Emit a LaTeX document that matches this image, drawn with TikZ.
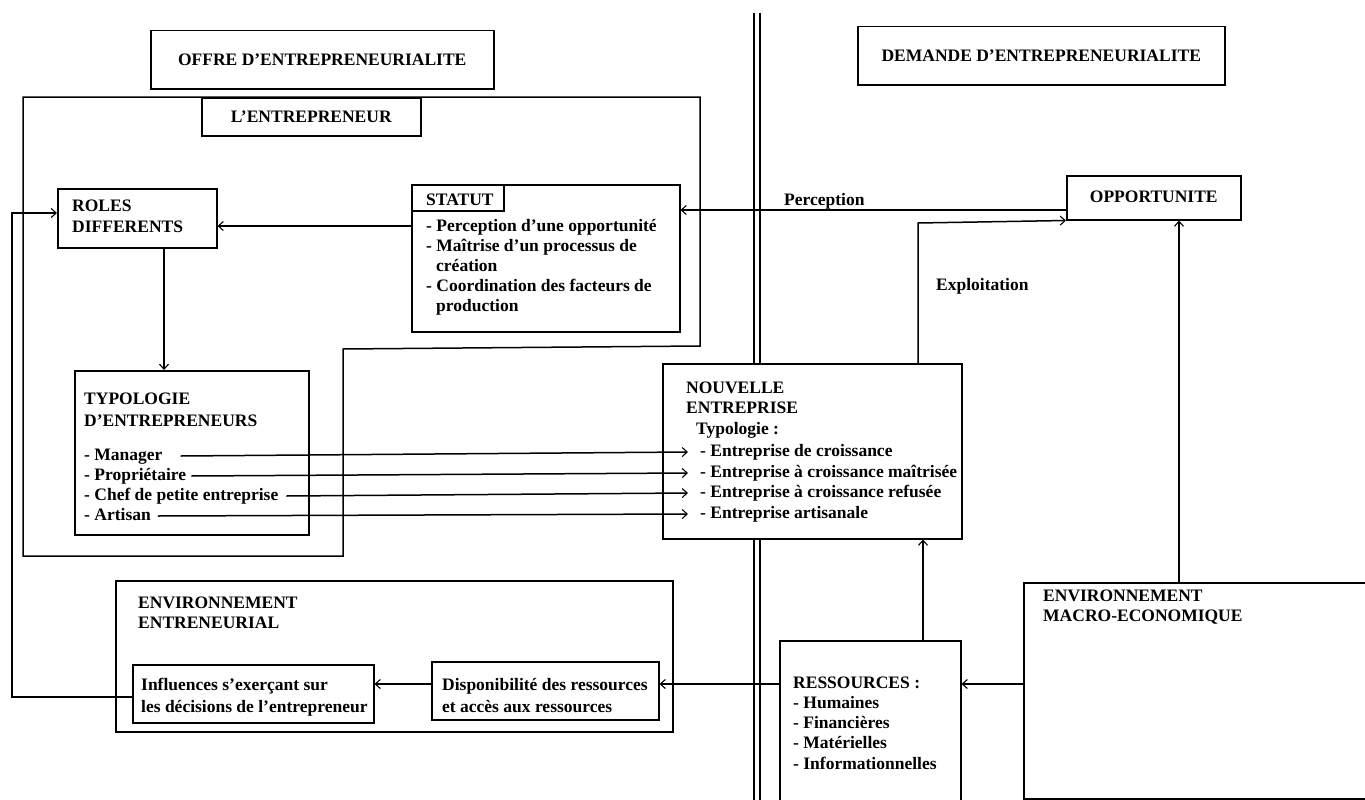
\documentclass[tikz,border=0pt]{standalone}
\usepackage{fontspec}
\setmainfont{Liberation Serif}
\usetikzlibrary{arrows.meta,calc}
\newcommand\mkbox[5]{\node[box,minimum width={(#4-#2)*1pt},minimum height={(#5-#3)*1pt}] (#1) at (#2,#3) {};}
\newcommand\putline[4]{\node[txt] (#1) at (#2,#3) {#4};}
\begin{document}
\begin{tikzpicture}[x=1pt,y=-1pt,
  ln/.style={line width=1.5pt,line join=miter},
  box/.style={draw,line width=1.5pt,inner sep=0pt,anchor=north west},
  txt/.style={font=\bfseries\fontsize{17.5}{20}\selectfont,inner sep=0pt,anchor=base west,text height=12pt,text depth=4pt},
  ttl/.style={font=\bfseries\fontsize{17.5}{20}\selectfont,inner sep=0pt},
  arr/.style={ln,-{Straight Barb[length=5pt,width=9pt,line width=1.1pt]}}]
\useasboundingbox (0,0) rectangle (1365,800);
\fill[white] (0,0) rectangle (1365,800);
\begin{scope}
\clip (0,0) rectangle (1365,800);

% ---- frame of L'ENTREPRENEUR
\draw[ln] (23,97) -- (700,97) -- (700,346) -- (343,349) -- (343,556) -- (23,556) -- cycle;

% ---- boxes
\mkbox{offre}{150}{30}{493}{88}
\mkbox{dem}{857}{26}{1224}{84}
\mkbox{ent}{201}{97}{420}{135}
\mkbox{roles}{57}{188}{216}{247}
\mkbox{statut}{411}{184}{679}{331}
\mkbox{opp}{1066}{175}{1240}{219}
\mkbox{typo}{74}{370}{308}{534}
\mkbox{nouv}{662}{363}{961}{538}
\mkbox{env}{115}{580}{672}{731}
\mkbox{infl}{132}{664}{373}{722}
\mkbox{disp}{431}{661}{658}{719}
\mkbox{res}{779}{640}{960}{810}
\mkbox{macro}{1023}{582}{1375}{798}

% ---- titles
\node[ttl] (offreT) at (offre.center) {OFFRE D'ENTREPRENEURIALITE};
\node[ttl] (demT) at (dem.center) {DEMANDE D'ENTREPRENEURIALITE};
\node[ttl] (entT) at (ent.center) {L'ENTREPRENEUR};
\node[ttl] (oppT) at ([yshift=1pt]opp.center) {OPPORTUNITE};

% ---- STATUT label box
\coordinate (stR) at (504,211);
\draw[ln] (statut.west |- stR) -- (stR) -- (stR |- statut.north);

% ---- texts
\putline{r1}{72}{211}{ROLES}
\putline{r2}{72}{232}{DIFFERENTS}
\putline{s0}{426}{205}{STATUT}
\putline{s1}{426}{231}{- Perception d'une opportunité}
\putline{s2}{426}{251}{- Maîtrise d'un processus de}
\putline{s3}{436}{271}{création}
\putline{s4}{426}{291}{- Coordination des facteurs de}
\putline{s5}{436}{311}{production}
\putline{perc}{784}{205}{Perception}
\putline{expl}{936}{290}{Exploitation}
\putline{t1}{84}{404}{TYPOLOGIE}
\putline{t2}{84}{426}{D'ENTREPRENEURS}
\putline{tm}{84}{460}{- Manager}
\putline{tp}{84}{480}{- Propriétaire}
\putline{tc}{84}{500}{- Chef de petite entreprise}
\putline{ta}{84}{520}{- Artisan}
\putline{n1}{686}{393}{NOUVELLE}
\putline{n2}{686}{413}{ENTREPRISE}
\putline{n3}{696}{434}{Typologie :}
\putline{e1}{700}{456}{- Entreprise de croissance}
\putline{e2}{700}{477}{- Entreprise à croissance maîtrisée}
\putline{e3}{700}{497}{- Entreprise à croissance refusée}
\putline{e4}{700}{518}{- Entreprise artisanale}
\putline{v1}{138}{608}{ENVIRONNEMENT}
\putline{v2}{138}{628}{ENTRENEURIAL}
\putline{i1}{141}{690}{Influences s'exerçant sur}
\putline{i2}{141}{712}{les décisions de l'entrepreneur}
\putline{d1}{442}{690}{Disponibilité des ressources}
\putline{d2}{442}{712}{et accès aux ressources}
\putline{q0}{793}{688}{RESSOURCES :}
\putline{q1}{793}{708}{- Humaines}
\putline{q2}{793}{728}{- Financières}
\putline{q3}{793}{748}{- Matérielles}
\putline{q4}{793}{769}{- Informationnelles}
\putline{m1}{1043}{601}{ENVIRONNEMENT}
\putline{m2}{1043}{621}{MACRO-ECONOMIQUE}

% ---- double separation line
\coordinate (dlA) at (754,13);
\coordinate (dlB) at (760,13);
\coordinate (dlE) at (0,800);
\draw[line width=1.3pt] (dlA) -- (dlA |- nouv.north) (dlB) -- (dlB |- nouv.north)
  (dlA |- nouv.south) -- (dlA |- dlE) (dlB |- nouv.south) -- (dlB |- dlE);

% ---- connectors
\coordinate (srY) at (0,226);
\draw[arr] (statut.west |- srY) -- (roles.east |- srY);
\coordinate (rtX) at (164,0);
\draw[arr] (roles.south -| rtX) -- (typo.north -| rtX);
\coordinate (pY) at (0,210);
\draw[arr] (opp.west |- pY) -- (statut.east |- pY);
\coordinate (exX) at (918,223);
\draw[arr] (nouv.north -| exX) -- (exX) -- (opp.south west);
\coordinate (mX) at (1179,0);
\draw[arr] (macro.north -| mX) -- (opp.south -| mX);
\coordinate (rX) at (923,0);
\draw[arr] (res.north -| rX) -- (nouv.south -| rX);
\coordinate (rY) at (0,684);
\draw[arr] (macro.west |- rY) -- (res.east |- rY);
\draw[arr] (res.west |- rY) -- (disp.east |- rY);
\draw[arr] (disp.west |- rY) -- (infl.east |- rY);
\coordinate (fbB) at (12,697);
\coordinate (fbT) at (12,213);
\draw[arr] (infl.west |- fbB) -- (fbB) -- (fbT) -- (roles.west |- fbT);
\draw[arr] ([xshift=18pt]tm.east) -- ([xshift=-12pt]e1.west);
\draw[arr] ([xshift=5pt]tp.east) -- ([xshift=-12pt]e2.west);
\draw[arr] ([xshift=8pt]tc.east) -- ([xshift=-12pt]e3.west);
\draw[arr] ([xshift=7pt]ta.east) -- ([xshift=-12pt]e4.west);
\end{scope}
\end{tikzpicture}
\end{document}
